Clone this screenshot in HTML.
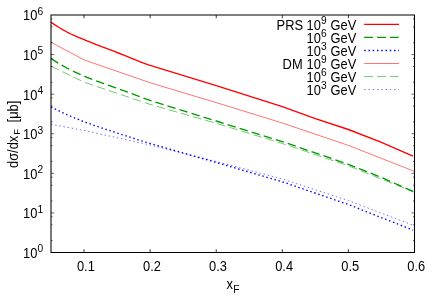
<!DOCTYPE html>
<html><head><meta charset="utf-8"><title>plot</title>
<style>html,body{margin:0;padding:0;background:#fff;}svg{display:block;will-change:transform;font-family:"Liberation Sans",sans-serif;}text{fill:#000;}</style></head><body>
<svg width="436" height="305" viewBox="0 0 436 305">
<rect width="436" height="305" fill="#fff"/>
<path d="M51.00,22.20 L55.00,24.91 L59.00,27.46 L63.00,29.84 L67.00,32.03 L71.00,34.01 L75.00,35.83 L79.00,37.55 L83.00,39.21 L87.00,40.87 L91.00,42.48 L95.00,44.05 L99.00,45.59 L103.00,47.12 L107.00,48.63 L111.00,50.16 L115.00,51.69 L119.00,53.25 L123.00,54.84 L127.00,56.45 L131.00,58.07 L135.00,59.68 L139.00,61.26 L143.00,62.80 L147.00,64.28 L150.14,65.40 L216.23,85.65 L282.32,106.60 L315.36,118.60 L348.41,129.50 L381.45,142.40 L413.00,156.15" fill="none" stroke="#ff0000" stroke-width="1.35" stroke-linejoin="round"/>
<path d="M51.00,58.60 L55.00,61.13 L59.00,63.55 L63.00,65.85 L67.00,68.03 L71.00,70.08 L75.00,72.04 L79.00,73.90 L83.00,75.66 L87.00,77.32 L91.00,78.89 L95.00,80.40 L99.00,81.85 L103.00,83.28 L107.00,84.69 L111.00,86.10 L115.00,87.54 L119.00,89.00 L123.00,90.49 L127.00,91.99 L131.00,93.49 L135.00,94.98 L139.00,96.46 L143.00,97.90 L147.00,99.32 L150.14,100.40 L216.23,121.00 L282.32,141.60 L348.41,164.30 L381.45,177.50 L413.00,191.44" fill="none" stroke="#009900" stroke-width="1.35" stroke-dasharray="8.5 4.1" stroke-linejoin="round"/>
<path d="M51.00,106.90 L55.00,108.95 L59.00,110.93 L63.00,112.84 L67.00,114.67 L71.00,116.42 L75.00,118.12 L79.00,119.74 L83.00,121.30 L87.00,122.80 L91.00,124.25 L95.00,125.65 L99.00,127.02 L103.00,128.36 L107.00,129.69 L111.00,131.00 L115.00,132.31 L119.00,133.63 L123.00,134.94 L127.00,136.23 L131.00,137.52 L135.00,138.80 L139.00,140.06 L143.00,141.31 L147.00,142.54 L150.14,143.50 L216.23,162.50 L282.32,181.80 L348.41,204.50 L381.45,217.70 L413.00,230.01" fill="none" stroke="#0000ff" stroke-width="1.35" stroke-dasharray="1.5 2.7" stroke-linejoin="round"/>
<path d="M51.00,42.30 L84.05,59.90 L150.14,82.75 L216.23,102.60 L282.32,123.00 L348.41,145.40 L414.50,171.40" fill="none" stroke="#ff0000" stroke-width="0.55" stroke-linejoin="round"/>
<path d="M51.00,66.10 L84.05,82.20 L150.14,104.40 L216.23,123.30 L282.32,143.50 L348.41,165.80 L414.50,192.30" fill="none" stroke="#009900" stroke-width="0.55" stroke-dasharray="8.5 4.1" stroke-linejoin="round"/>
<path d="M51.00,124.20 L84.05,130.50 L150.14,145.00 L216.23,161.50 L282.32,179.00 L348.41,200.60 L414.50,225.80" fill="none" stroke="#0000ff" stroke-width="0.55" stroke-dasharray="1.5 2.7" stroke-linejoin="round"/>
<path d="M364.2,24.38 L399.0,24.38" fill="none" stroke="#ff0000" stroke-width="1.35"/>
<path d="M364.2,37.42 L399.0,37.42" fill="none" stroke="#009900" stroke-width="1.35" stroke-dasharray="8.7 4.2"/>
<path d="M364.2,50.46 L399.0,50.46" fill="none" stroke="#0000ff" stroke-width="1.35" stroke-dasharray="1.5 2.76"/>
<path d="M364.2,63.5 L399.0,63.5" fill="none" stroke="#ff0000" stroke-width="0.55"/>
<path d="M364.2,76.54 L399.0,76.54" fill="none" stroke="#009900" stroke-width="0.55" stroke-dasharray="8.7 4.2"/>
<path d="M364.2,89.58 L399.0,89.58" fill="none" stroke="#0000ff" stroke-width="0.55" stroke-dasharray="1.5 2.76"/>
<path d="M51.0,240.58 h1.5 M414.5,240.58 h-1.5 M51.0,224.83 h1.5 M414.5,224.83 h-1.5 M51.0,216.75 h1.5 M414.5,216.75 h-1.5 M51.0,212.92 h3.0 M414.5,212.92 h-3.0 M51.0,201.00 h1.5 M414.5,201.00 h-1.5 M51.0,185.25 h1.5 M414.5,185.25 h-1.5 M51.0,177.17 h1.5 M414.5,177.17 h-1.5 M51.0,173.33 h3.0 M414.5,173.33 h-3.0 M51.0,161.42 h1.5 M414.5,161.42 h-1.5 M51.0,145.67 h1.5 M414.5,145.67 h-1.5 M51.0,137.59 h1.5 M414.5,137.59 h-1.5 M51.0,133.75 h3.0 M414.5,133.75 h-3.0 M51.0,121.83 h1.5 M414.5,121.83 h-1.5 M51.0,106.08 h1.5 M414.5,106.08 h-1.5 M51.0,98.00 h1.5 M414.5,98.00 h-1.5 M51.0,94.17 h3.0 M414.5,94.17 h-3.0 M51.0,82.25 h1.5 M414.5,82.25 h-1.5 M51.0,66.50 h1.5 M414.5,66.50 h-1.5 M51.0,58.42 h1.5 M414.5,58.42 h-1.5 M51.0,54.58 h3.0 M414.5,54.58 h-3.0 M51.0,42.67 h1.5 M414.5,42.67 h-1.5 M51.0,26.92 h1.5 M414.5,26.92 h-1.5 M51.0,18.84 h1.5 M414.5,18.84 h-1.5" fill="none" stroke="#000" stroke-width="0.6"/>
<path d="M84.05,252.5 v-3.2 M84.05,15.0 v3.2 M150.14,252.5 v-3.2 M150.14,15.0 v3.2 M216.23,252.5 v-3.2 M216.23,15.0 v3.2 M282.32,252.5 v-3.2 M282.32,15.0 v3.2 M348.41,252.5 v-3.2 M348.41,15.0 v3.2" fill="none" stroke="#000" stroke-width="0.8"/>
<path d="M51.0,15.0 H414.5 V252.5 H51.0 Z" fill="none" stroke="#000" stroke-width="1.05" stroke-linejoin="miter"/>
<text transform="translate(37.40,257.90) scale(1,1.11)" font-size="12.9" text-anchor="end">10</text>
<text x="37.60" y="252.40" font-size="10.2">0</text>
<text transform="translate(37.40,218.32) scale(1,1.11)" font-size="12.9" text-anchor="end">10</text>
<text x="37.60" y="212.82" font-size="10.2">1</text>
<text transform="translate(37.40,178.73) scale(1,1.11)" font-size="12.9" text-anchor="end">10</text>
<text x="37.60" y="173.23" font-size="10.2">2</text>
<text transform="translate(37.40,139.15) scale(1,1.11)" font-size="12.9" text-anchor="end">10</text>
<text x="37.60" y="133.65" font-size="10.2">3</text>
<text transform="translate(37.40,99.57) scale(1,1.11)" font-size="12.9" text-anchor="end">10</text>
<text x="37.60" y="94.07" font-size="10.2">4</text>
<text transform="translate(37.40,59.98) scale(1,1.11)" font-size="12.9" text-anchor="end">10</text>
<text x="37.60" y="54.48" font-size="10.2">5</text>
<text transform="translate(37.40,20.40) scale(1,1.11)" font-size="12.9" text-anchor="end">10</text>
<text x="37.60" y="14.90" font-size="10.2">6</text>
<text transform="translate(85.85,270.60) scale(1,1.11)" font-size="12.9" text-anchor="middle">0.1</text>
<text transform="translate(151.94,270.60) scale(1,1.11)" font-size="12.9" text-anchor="middle">0.2</text>
<text transform="translate(218.03,270.60) scale(1,1.11)" font-size="12.9" text-anchor="middle">0.3</text>
<text transform="translate(284.12,270.60) scale(1,1.11)" font-size="12.9" text-anchor="middle">0.4</text>
<text transform="translate(350.21,270.60) scale(1,1.11)" font-size="12.9" text-anchor="middle">0.5</text>
<text transform="translate(416.30,270.60) scale(1,1.11)" font-size="12.9" text-anchor="middle">0.6</text>
<text transform="translate(226.60,288.50) scale(1,1.11)" font-size="12.9">x</text>
<text x="233.30" y="292.90" font-size="10.2">F</text>
<g transform="translate(17.6,168.0) rotate(-90)"><text transform="translate(0.00,0.00) scale(1,1.11)" font-size="12.9">dσ/dx</text><text x="33.20" y="2.60" font-size="9.4">F</text><text transform="translate(45.60,0.00) scale(1,1.11)" font-size="12.9">[μb]</text></g>
<text transform="translate(276.60,29.68) scale(1,1.11)" font-size="12.9">PRS</text>
<text transform="translate(320.90,29.68) scale(1,1.11)" font-size="12.9" text-anchor="end">10</text>
<text x="321.10" y="24.18" font-size="10.2">9</text>
<text transform="translate(330.60,29.68) scale(1,1.11)" font-size="12.9">GeV</text>
<text transform="translate(320.90,42.72) scale(1,1.11)" font-size="12.9" text-anchor="end">10</text>
<text x="321.10" y="37.22" font-size="10.2">6</text>
<text transform="translate(330.60,42.72) scale(1,1.11)" font-size="12.9">GeV</text>
<text transform="translate(320.90,55.76) scale(1,1.11)" font-size="12.9" text-anchor="end">10</text>
<text x="321.10" y="50.26" font-size="10.2">3</text>
<text transform="translate(330.60,55.76) scale(1,1.11)" font-size="12.9">GeV</text>
<text transform="translate(282.60,68.80) scale(1,1.11)" font-size="12.9">DM</text>
<text transform="translate(320.90,68.80) scale(1,1.11)" font-size="12.9" text-anchor="end">10</text>
<text x="321.10" y="63.30" font-size="10.2">9</text>
<text transform="translate(330.60,68.80) scale(1,1.11)" font-size="12.9">GeV</text>
<text transform="translate(320.90,81.84) scale(1,1.11)" font-size="12.9" text-anchor="end">10</text>
<text x="321.10" y="76.34" font-size="10.2">6</text>
<text transform="translate(330.60,81.84) scale(1,1.11)" font-size="12.9">GeV</text>
<text transform="translate(320.90,94.88) scale(1,1.11)" font-size="12.9" text-anchor="end">10</text>
<text x="321.10" y="89.38" font-size="10.2">3</text>
<text transform="translate(330.60,94.88) scale(1,1.11)" font-size="12.9">GeV</text>
</svg></body></html>
